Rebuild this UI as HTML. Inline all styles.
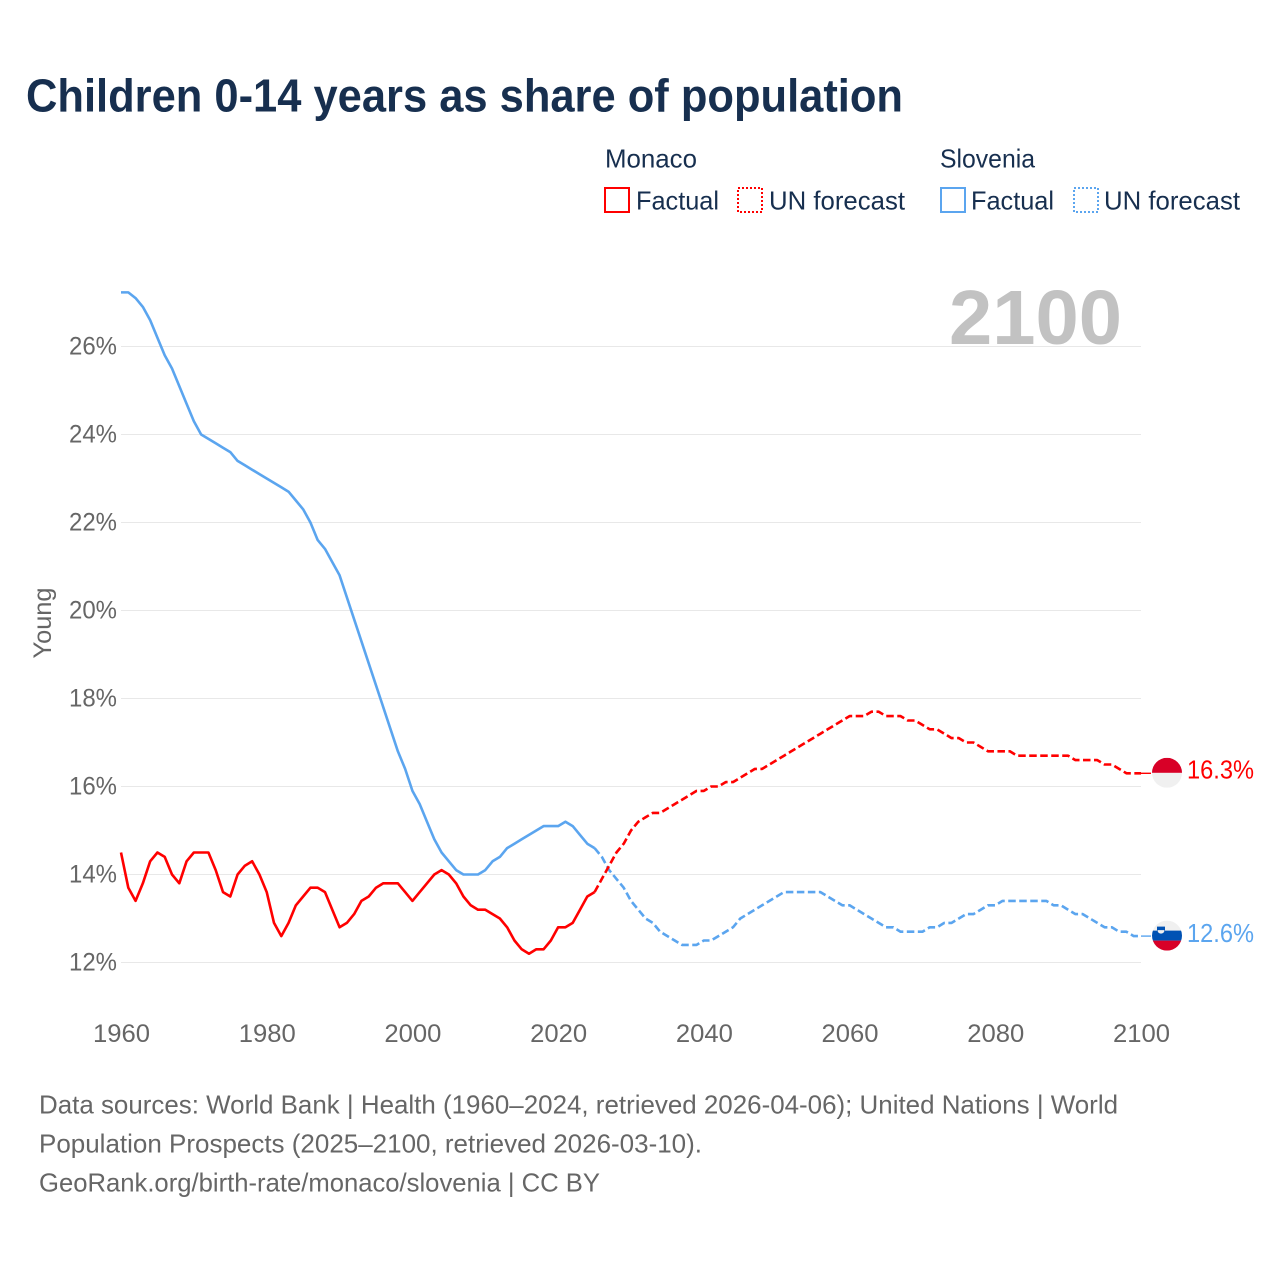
<!DOCTYPE html>
<html lang="en">
<head>
<meta charset="utf-8">
<title>Children 0-14 years as share of population</title>
<style>
html,body{margin:0;padding:0;background:#fff;}
svg{display:block;}
text{font-family:"Liberation Sans",sans-serif;}
</style>
</head>
<body>
<svg id="chart" xmlns="http://www.w3.org/2000/svg" width="1280" height="1280" viewBox="0 0 1280 1280">
  <defs>
    <clipPath id="flag-clip-monaco"><circle id="clip-circle-monaco" cx="1167" cy="773" r="15"></circle></clipPath>
    <clipPath id="flag-clip-slovenia"><circle id="clip-circle-slovenia" cx="1167" cy="936" r="15"></circle></clipPath>
  </defs>
  <rect x="0" y="0" width="1280" height="1280" fill="#fff"></rect>
  <text x="26" y="111.5" font-size="46" font-weight="700" fill="#172f4f" textLength="877" lengthAdjust="spacingAndGlyphs">Children 0-14 years as share of population</text>

  <g fill="#172f4f" font-size="26">
    <text x="605" y="167.5" textLength="92" lengthAdjust="spacingAndGlyphs">Monaco</text>
    <text x="940" y="167.5" textLength="95" lengthAdjust="spacingAndGlyphs">Slovenia</text>
    <rect x="605" y="188" width="24" height="24" fill="none" stroke="#ff0000" stroke-width="2"></rect>
    <text x="636" y="209.5" textLength="83" lengthAdjust="spacingAndGlyphs">Factual</text>
    <rect x="738" y="188" width="24" height="24" fill="none" stroke="#ff0000" stroke-width="2" stroke-dasharray="2 2"></rect>
    <text x="769" y="209.5" textLength="136" lengthAdjust="spacingAndGlyphs">UN forecast</text>
    <rect x="941" y="188" width="24" height="24" fill="none" stroke="#5ba5ef" stroke-width="2"></rect>
    <text x="971" y="209.5" textLength="83" lengthAdjust="spacingAndGlyphs">Factual</text>
    <rect x="1074" y="188" width="24" height="24" fill="none" stroke="#5ba5ef" stroke-width="2" stroke-dasharray="2 2"></rect>
    <text x="1104" y="209.5" textLength="136" lengthAdjust="spacingAndGlyphs">UN forecast</text>
  </g>

  <g id="grid"></g>
  <text x="949" y="344" font-size="77" font-weight="700" fill="#c2c2c2" textLength="173" lengthAdjust="spacingAndGlyphs">2100</text>
  <g id="y-ticks"></g>
  <g id="x-ticks"></g>
  <text transform="translate(51,623) rotate(-90)" text-anchor="middle" font-size="25" fill="#666666" textLength="71" lengthAdjust="spacingAndGlyphs">Young</text>
  <g id="series"></g>

  <g id="flag-monaco" clip-path="url(#flag-clip-monaco)">
    <rect id="mc-white" x="1152" y="773" width="30" height="15" fill="#f0f0f0"></rect>
    <rect id="mc-red" x="1152" y="758" width="30" height="15" fill="#d80027"></rect>
  </g>
  <g id="flag-slovenia" clip-path="url(#flag-clip-slovenia)">
    <rect id="si-white" x="1152" y="921" width="30" height="10" fill="#f0f0f0"></rect>
    <rect id="si-blue" x="1152" y="931" width="30" height="10" fill="#0052b4"></rect>
    <rect id="si-red" x="1152" y="941" width="30" height="10" fill="#d80027"></rect>
    <g id="si-arms">
      <rect x="1157" y="927" width="8" height="5" fill="#0052b4"></rect>
      <path d="M1157.5 930.5h7a3.5 3.5 0 0 1 -7 0z" fill="#f0f0f0"></path>
    </g>
  </g>
  <g id="end-labels"></g>

  <g font-size="26" fill="#666666">
    <text x="39" y="1113.5" textLength="1079" lengthAdjust="spacingAndGlyphs">Data sources: World Bank | Health (1960–2024, retrieved 2026-04-06); United Nations | World</text>
    <text x="39" y="1152.5" textLength="663" lengthAdjust="spacingAndGlyphs">Population Prospects (2025–2100, retrieved 2026-03-10).</text>
    <text x="39" y="1191.5" textLength="561" lengthAdjust="spacingAndGlyphs">GeoRank.org/birth-rate/monaco/slovenia | CC BY</text>
  </g>
</svg>
<script>
const yTickValues = [12, 14, 16, 18, 20, 22, 24, 26];
const xTickYears = [1960, 1980, 2000, 2020, 2040, 2060, 2080, 2100];
const factualYears = [
  1960,1961,1962,1963,1964,1965,1966,1967,1968,1969,
  1970,1971,1972,1973,1974,1975,1976,1977,1978,1979,
  1980,1981,1982,1983,1984,1985,1986,1987,1988,1989,
  1990,1991,1992,1993,1994,1995,1996,1997,1998,1999,
  2000,2001,2002,2003,2004,2005,2006,2007,2008,2009,
  2010,2011,2012,2013,2014,2015,2016,2017,2018,2019,
  2020,2021,2022,2023,2024,2025];
const forecastYears = [
  2025,2026,2027,2028,2029,
  2030,2031,2032,2033,2034,2035,2036,2037,2038,2039,
  2040,2041,2042,2043,2044,2045,2046,2047,2048,2049,
  2050,2051,2052,2053,2054,2055,2056,2057,2058,2059,
  2060,2061,2062,2063,2064,2065,2066,2067,2068,2069,
  2070,2071,2072,2073,2074,2075,2076,2077,2078,2079,
  2080,2081,2082,2083,2084,2085,2086,2087,2088,2089,
  2090,2091,2092,2093,2094,2095,2096,2097,2098,2099,
  2100];
const monacoFactual = [
  14.5,13.7,13.4,13.8,14.3,14.5,14.4,14.0,13.8,14.3,
  14.5,14.5,14.5,14.1,13.6,13.5,14.0,14.2,14.3,14.0,
  13.6,12.9,12.6,12.9,13.3,13.5,13.7,13.7,13.6,13.2,
  12.8,12.9,13.1,13.4,13.5,13.7,13.8,13.8,13.8,13.6,
  13.4,13.6,13.8,14.0,14.1,14.0,13.8,13.5,13.3,13.2,
  13.2,13.1,13.0,12.8,12.5,12.3,12.2,12.3,12.3,12.5,
  12.8,12.8,12.9,13.2,13.5,13.6];
const monacoForecast = [
  13.6,13.9,14.2,14.5,14.7,
  15.0,15.2,15.3,15.4,15.4,15.5,15.6,15.7,15.8,15.9,
  15.9,16.0,16.0,16.1,16.1,16.2,16.3,16.4,16.4,16.5,
  16.6,16.7,16.8,16.9,17.0,17.1,17.2,17.3,17.4,17.5,
  17.6,17.6,17.6,17.7,17.7,17.6,17.6,17.6,17.5,17.5,
  17.4,17.3,17.3,17.2,17.1,17.1,17.0,17.0,16.9,16.8,
  16.8,16.8,16.8,16.7,16.7,16.7,16.7,16.7,16.7,16.7,
  16.7,16.6,16.6,16.6,16.6,16.5,16.5,16.4,16.3,16.3,
  16.3];
const sloveniaFactual = [
  27.23,27.23,27.1,26.9,26.6,26.2,25.8,25.5,25.1,24.7,
  24.3,24.0,23.9,23.8,23.7,23.6,23.4,23.3,23.2,23.1,
  23.0,22.9,22.8,22.7,22.5,22.3,22.0,21.6,21.4,21.1,
  20.8,20.3,19.8,19.3,18.8,18.3,17.8,17.3,16.8,16.4,
  15.9,15.6,15.2,14.8,14.5,14.3,14.1,14.0,14.0,14.0,
  14.1,14.3,14.4,14.6,14.7,14.8,14.9,15.0,15.1,15.1,
  15.1,15.2,15.1,14.9,14.7,14.6];
const sloveniaForecast = [
  14.6,14.4,14.1,13.9,13.7,
  13.4,13.2,13.0,12.9,12.7,12.6,12.5,12.4,12.4,12.4,
  12.5,12.5,12.6,12.7,12.8,13.0,13.1,13.2,13.3,13.4,
  13.5,13.6,13.6,13.6,13.6,13.6,13.6,13.5,13.4,13.3,
  13.3,13.2,13.1,13.0,12.9,12.8,12.8,12.7,12.7,12.7,
  12.7,12.8,12.8,12.9,12.9,13.0,13.1,13.1,13.2,13.3,
  13.3,13.4,13.4,13.4,13.4,13.4,13.4,13.4,13.3,13.3,
  13.2,13.1,13.1,13.0,12.9,12.8,12.8,12.7,12.7,12.6,
  12.6];

const NS = 'http://www.w3.org/2000/svg';
const RED = '#ff0000';
const BLUE = '#5ba5ef';
const xScale = function (year) { return 121 + (year - 1960) * (1020 / 140); };
const yScale = function (value) { return 962.5 - (value - 12) * 44; };

function make(tag, parentId) {
  const el = document.createElementNS(NS, tag);
  document.getElementById(parentId).appendChild(el);
  return el;
}
function pointsFor(years, values) {
  return values.map(function (v, i) {
    return xScale(years[i]).toFixed(2) + ',' + yScale(v).toFixed(2);
  }).join(' ');
}

yTickValues.forEach(function (v) {
  const line = make('line', 'grid');
  
  
  line.setAttribute('x1', xScale(1960));
  line.setAttribute('x2', xScale(2100));
  line.setAttribute('y1', yScale(v));
  line.setAttribute('y2', yScale(v));
  line.setAttribute('stroke', '#e8e8e8');
  line.setAttribute('stroke-width', '1');

  const label = make('text', 'y-ticks');
  
  
  label.setAttribute('x', 69);
  label.setAttribute('y', yScale(v) + 8);
  label.setAttribute('font-size', '25');
  label.setAttribute('fill', '#666666');
  label.setAttribute('textLength', '48');
  label.setAttribute('lengthAdjust', 'spacingAndGlyphs');
  label.textContent = v + '%';
});

xTickYears.forEach(function (y) {
  const label = make('text', 'x-ticks');
  
  
  label.setAttribute('x', xScale(y) - 28);
  label.setAttribute('y', 1042);
  label.setAttribute('font-size', '25');
  label.setAttribute('fill', '#666666');
  label.setAttribute('textLength', '57');
  label.setAttribute('lengthAdjust', 'spacingAndGlyphs');
  label.textContent = y;
});

function drawLine(name, years, values, color, dashed) {
  const line = make('polyline', 'series');
  
  
  line.setAttribute('points', pointsFor(years, values));
  line.setAttribute('fill', 'none');
  line.setAttribute('stroke', color);
  line.setAttribute('stroke-width', '2.6');
  line.setAttribute('stroke-linejoin', 'round');
  if (dashed) {
    line.setAttribute('stroke-dasharray', '7.5 3.5');
  }
}
drawLine('line-slovenia-factual', factualYears, sloveniaFactual, BLUE, false);
drawLine('line-monaco-factual', factualYears, monacoFactual, RED, false);
drawLine('line-slovenia-forecast', forecastYears, sloveniaForecast, BLUE, true);
drawLine('line-monaco-forecast', forecastYears, monacoForecast, RED, true);

function drawEnd(name, values, color, labelOffset) {
  const last = values[values.length - 1];
  const y = yScale(last);
  const conn = make('line', 'series');
  
  
  conn.setAttribute('x1', xScale(2100));
  conn.setAttribute('x2', 1151);
  conn.setAttribute('y1', y);
  conn.setAttribute('y2', y);
  conn.setAttribute('stroke', color);
  conn.setAttribute('stroke-width', '1.4');

  const label = make('text', 'end-labels');
  
  
  label.setAttribute('x', 1187);
  label.setAttribute('y', y + labelOffset);
  label.setAttribute('font-size', '26');
  label.setAttribute('fill', color);
  label.setAttribute('textLength', '67');
  label.setAttribute('lengthAdjust', 'spacingAndGlyphs');
  label.textContent = last.toFixed(1) + '%';
  return y;
}
const monacoEndY = drawEnd('monaco', monacoForecast, RED, 5);
const sloveniaEndY = drawEnd('slovenia', sloveniaForecast, BLUE, 6);

document.getElementById('clip-circle-monaco').setAttribute('cy', monacoEndY - 0.5);
document.getElementById('mc-red').setAttribute('y', monacoEndY - 15.5);
document.getElementById('mc-white').setAttribute('y', monacoEndY - 0.5);
document.getElementById('clip-circle-slovenia').setAttribute('cy', sloveniaEndY - 0.5);
document.getElementById('si-white').setAttribute('y', sloveniaEndY - 15.5);
document.getElementById('si-blue').setAttribute('y', sloveniaEndY - 5.5);
document.getElementById('si-red').setAttribute('y', sloveniaEndY + 4.5);
document.getElementById('si-arms').setAttribute('transform', 'translate(0,' + (sloveniaEndY - 936.5) + ')');
</script>
</body>
</html>
